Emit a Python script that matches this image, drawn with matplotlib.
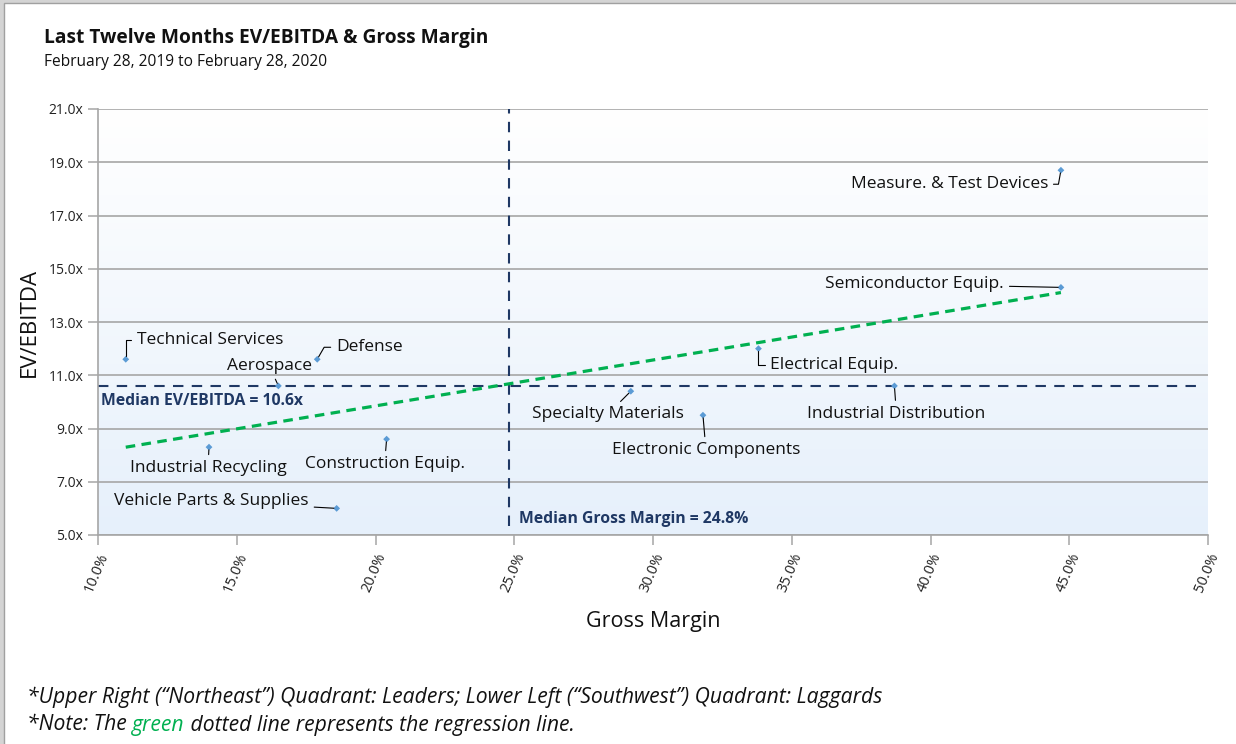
import numpy as np
import matplotlib
matplotlib.use("Agg")
import matplotlib.pyplot as plt
from matplotlib.patches import Rectangle

plt.rcParams['font.family'] = ['Open Sans', 'DejaVu Sans']

# data (gross margin %, EV/EBITDA x)
sectors = ["Technical Services", "Aerospace", "Defense", "Industrial Recycling",
           "Construction Equip.", "Vehicle Parts & Supplies", "Specialty Materials",
           "Electronic Components", "Electrical Equip.", "Industrial Distribution",
           "Semiconductor Equip.", "Measure. & Test Devices"]
gross_margin = [11.0, 16.5, 17.9, 14.0, 20.4, 18.6, 29.2, 31.8, 33.8, 38.7, 44.7, 44.7]
ev_ebitda = [11.6, 10.6, 11.6, 8.3, 8.6, 6.0, 10.4, 9.5, 12.0, 10.6, 14.3, 18.7]
median_gm = 24.8
median_ev = 10.6
y_ticks = [5, 7, 9, 11, 13, 15, 17, 19, 21]
x_ticks = [10, 15, 20, 25, 30, 35, 40, 45, 50]

# label placement: offset in pixels, alignment, leader connection
label_style = {
    "Technical Services": ((11, 19), "left", "angle,angleA=0,angleB=90"),
    "Aerospace": ((-9, 20), "center", "arc3"),
    "Defense": ((19, 12), "left", "angle,angleA=0,angleB=60"),
    "Industrial Recycling": ((-1, -21), "center", "arc3"),
    "Construction Equip.": ((-2, -25), "center", "arc3"),
    "Vehicle Parts & Supplies": ((-28, 7), "right", "arc3"),
    "Specialty Materials": ((-23, -23), "center", "arc3"),
    "Electronic Components": ((3, -35), "center", "arc3"),
    "Electrical Equip.": ((12, -16), "left", "angle,angleA=0,angleB=90"),
    "Industrial Distribution": ((2, -28), "center", "arc3"),
    "Semiconductor Equip.": ((-57, 3), "right", "arc3"),
    "Measure. & Test Devices": ((-13, -14), "right", "angle,angleA=0,angleB=80"),
}

navy = "#1f3864"
green = "#00b050"

fig = plt.figure(figsize=(12.36, 7.44), dpi=100)

# screenshot frame
fig.patches.append(Rectangle((0, 0), 1, 1, transform=fig.transFigure,
                             facecolor="#d4d4d4", edgecolor="none", zorder=-3))
fig.patches.append(Rectangle((0.0035, -0.01), 1.0, 1.006, transform=fig.transFigure,
                             facecolor="white", edgecolor="#a0a0a0", lw=1.0, zorder=-2))

ax = fig.add_axes([98 / 1236, 1 - 535 / 744, 1110 / 1236, 426 / 744])
ax.set_xlim(10, 50)
ax.set_ylim(5, 21)

# gradient background
grad = np.linspace(0, 1, 256).reshape(-1, 1)
cmap = matplotlib.colors.LinearSegmentedColormap.from_list("bg", ["#e6f0fb", "#ffffff"])
ax.imshow(grad, extent=[0, 1, 0, 1], transform=ax.transAxes, aspect="auto",
          cmap=cmap, origin="lower", zorder=0)
ax.set_facecolor("white")

for y in y_ticks:
    ax.axhline(y, color="#a6a6a6", lw=1.2, zorder=1)

for s in ["top", "right"]:
    ax.spines[s].set_visible(False)
for s in ["left", "bottom"]:
    ax.spines[s].set_color("#a6a6a6")
    ax.spines[s].set_linewidth(1.2)

ax.set_yticks(y_ticks)
ax.set_yticklabels([f"{v:.1f}x" for v in y_ticks], fontsize=10, color="#222222")
ax.set_xticks(x_ticks)
ax.set_xticklabels([f"{v:.1f}%" for v in x_ticks], fontsize=10.5, color="#222222",
                   rotation=67, ha="right", va="top", rotation_mode="anchor")
ax.tick_params(axis="both", color="#a6a6a6", length=7, width=1.1)
ax.tick_params(axis="x", pad=4)

# medians
ax.axhline(median_ev, xmax=0.99, color=navy, lw=1.5, ls=(0, (5, 4)), zorder=2)
ax.axvline(median_gm, ymin=0.02, color=navy, lw=1.5, ls=(0, (5, 4)), zorder=2)
ax.annotate(f"Median EV/EBITDA = {median_ev}x", xy=(10, median_ev), xytext=(3, -15),
            textcoords="offset pixels", fontsize=11.3, fontweight="bold", color=navy,
            ha="left", va="center", family=["Liberation Sans Narrow", "Open Sans"])
ax.annotate(f"Median Gross Margin = {median_gm}%", xy=(median_gm, 5), xytext=(10, 16),
            textcoords="offset pixels", fontsize=11.3, fontweight="bold", color=navy,
            ha="left", va="center", family=["Liberation Sans Narrow", "Open Sans"])

# regression line
coef = np.polyfit(gross_margin, ev_ebitda, 1)
xr = np.array([min(gross_margin), max(gross_margin)])
ax.plot(xr, np.polyval(coef, xr), color=green, lw=2.3, ls=(0, (3, 2)), zorder=3)

# points
ax.scatter(gross_margin, ev_ebitda, marker="D", s=12, color="#5b9bd5", zorder=5,
           edgecolors="none")

for name, gx, ev in zip(sectors, gross_margin, ev_ebitda):
    off, ha, conn = label_style[name]
    ax.annotate(name, xy=(gx, ev), xytext=off, textcoords="offset pixels",
                ha=ha, va="center", fontsize=12.5, color="#111111", zorder=6,
                arrowprops=dict(arrowstyle="-", color="black", lw=0.8,
                                shrinkA=2, shrinkB=2, connectionstyle=conn))

ax.set_ylabel("EV/EBITDA", fontsize=16, color="#111111", labelpad=6)
ax.set_xlabel("Gross Margin", fontsize=15.5, color="#111111", labelpad=12)

# titles
fig.text(44 / 1236, 1 - 38 / 744, "Last Twelve Months EV/EBITDA & Gross Margin",
         fontsize=13.8, fontweight="bold", ha="left", va="center", color="#111111")
fig.text(44 / 1236, 1 - 62 / 744, "February 28, 2019 to February 28, 2020",
         fontsize=11.2, ha="left", va="center", color="#111111")

# footnotes
fig.text(27 / 1236, 1 - 697 / 744,
         "*Upper Right (\u201cNortheast\u201d) Quadrant: Leaders; Lower Left (\u201cSouthwest\u201d) Quadrant: Laggards",
         fontsize=15.2, style="italic", ha="left", va="center", color="#111111")
parts = [("*Note: The ", "#111111"), ("green", green),
         (" dotted line represents the regression line.", "#111111")]
fig.canvas.draw()
renderer = fig.canvas.get_renderer()
xpos = 27 / 1236
for txt, col in parts:
    t = fig.text(xpos, 1 - 725 / 744, txt, fontsize=15.2, style="italic",
                 ha="left", va="center", color=col)
    bb = t.get_window_extent(renderer=renderer)
    xpos += bb.width / fig.bbox.width

fig.savefig("out.png", dpi=100)
